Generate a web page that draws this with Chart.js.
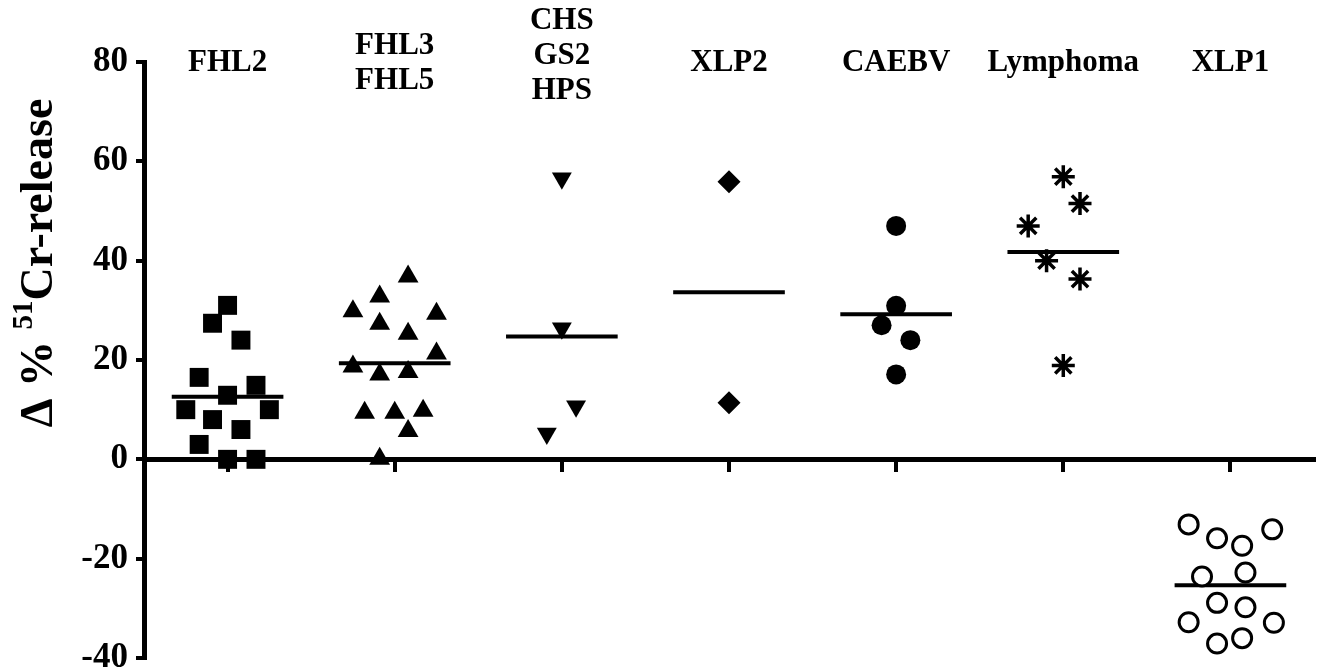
<!DOCTYPE html>
<html><head><meta charset="utf-8">
<script src="https://cdn.jsdelivr.net/npm/chart.js@4/dist/chart.umd.min.js"></script>
<style>html,body{margin:0;padding:0;background:#fff;}canvas{display:block;}</style>
</head><body>
<canvas id="c" width="1320" height="672"></canvas>
<script>
// ---- data ----
const categories = ['FHL2', 'FHL3 / FHL5', 'CHS / GS2 / HPS', 'XLP2', 'CAEBV', 'Lymphoma', 'XLP1'];
const categoryLabelLines = [['FHL2'], ['FHL3', 'FHL5'], ['CHS', 'GS2', 'HPS'], ['XLP2'], ['CAEBV'], ['Lymphoma'], ['XLP1']];
const yTickStep = 20;
const yMin = -40;
const yMax = 80;

const fhl2Values = [31.0, 27.4, 24.0, 16.5, 14.9, 12.9, 10.0, 10.0, 8.0, 6.0, 3.0, 0.0, 0.0];
const fhl2Spread = [0, -0.09, 0.08, -0.17, 0.17, 0, -0.25, 0.25, -0.09, 0.08, -0.17, 0, 0.17];

const fhl35Values = [36.8, 32.8, 29.8, 29.3, 27.3, 25.3, 21.3, 18.7, 17.1, 17.6, 9.4, 9.4, 9.8, 5.7, 0.1];
const fhl35Spread = [0.08, -0.09, -0.25, 0.25, -0.09, 0.08, 0.25, -0.25, -0.09, 0.08, -0.18, 0, 0.17, 0.08, -0.09];

const chsValues = [56.6, 26.4, 10.7, 5.2];
const chsSpread = [0, 0, 0.085, -0.09];

const xlp2Values = [55.9, 11.4];
const xlp2Spread = [0, 0];

const caebvValues = [47.0, 30.9, 27.0, 24.0, 17.1];
const caebvSpread = [0, 0, -0.087, 0.085, 0];

const lymphomaValues = [56.9, 51.5, 47.0, 40.0, 36.3, 18.9];
const lymphomaSpread = [0, 0.10, -0.21, -0.10, 0.10, 0];

const xlp1Values = [-13.1, -14.1, -15.9, -17.4, -23.6, -22.8, -28.9, -29.8, -32.8, -32.9, -37.1, -36.0];
const xlp1Spread = [-0.25, 0.25, -0.08, 0.07, -0.17, 0.09, -0.08, 0.09, -0.25, 0.26, -0.08, 0.07];

// ---- build chart ----
const groups = [
  {values: fhl2Values, spread: fhl2Spread, style: 'rect', radius: 13.4, fill: true, rotation: 0},
  {values: fhl35Values, spread: fhl35Spread, style: 'triangle', radius: 12, fill: true, rotation: 0},
  {values: chsValues, spread: chsSpread, style: 'triangle', radius: 11.5, fill: true, rotation: 180},
  {values: xlp2Values, spread: xlp2Spread, style: 'rectRot', radius: 11.5, fill: true, rotation: 0},
  {values: caebvValues, spread: caebvSpread, style: 'circle', radius: 10, fill: true, rotation: 0},
  {values: lymphomaValues, spread: lymphomaSpread, style: 'star', radius: 11.5, fill: true, rotation: 0, border: 3.5},
  {values: xlp1Values, spread: xlp1Spread, style: 'circle', radius: 9.5, fill: false, rotation: 0, border: 3}
];

const datasets = [];
groups.forEach((g, i) => {
  const mean = g.values.reduce((a, b) => a + b, 0) / g.values.length;
  datasets.push({
    type: 'line',
    label: categories[i] + ' mean',
    data: [{x: i - 0.334, y: mean}, {x: i + 0.334, y: mean}],
    borderColor: '#000',
    borderWidth: 4,
    pointRadius: 0,
    fill: false,
    order: 2
  });
  datasets.push({
    type: 'scatter',
    label: categories[i],
    data: g.values.map((v, k) => ({x: i + g.spread[k], y: v})),
    pointStyle: g.style,
    pointRadius: g.radius,
    pointRotation: g.rotation,
    backgroundColor: g.fill ? '#000' : '#fff',
    borderColor: '#000',
    borderWidth: g.border || 0.01,
    order: 1
  });
});

const labelsPlugin = {
  id: 'labelsPlugin',
  afterDraw(chart) {
    const ctx = chart.ctx;
    const xs = chart.scales.x;
    ctx.save();
    ctx.fillStyle = '#000';
    ctx.textAlign = 'center';
    ctx.textBaseline = 'middle';
    ctx.font = 'bold 31px "Liberation Serif"';
    categoryLabelLines.forEach((lines, i) => {
      const n = lines.length;
      let y0 = 63 - (n - 1) * 17.5 - (n > 2 ? 7 : 0);
      lines.forEach((t, k) => ctx.fillText(t, xs.getPixelForValue(i), y0 + k * 35));
    });
    // y axis title with superscript
    const big = 'bold 46px "Liberation Serif"';
    const small = 'bold 29px "Liberation Serif"';
    const parts = [
      {t: '\u0394 % ', f: big, dy: 0},
      {t: '51', f: small, dy: -15},
      {t: 'Cr-release', f: big, dy: 0}
    ];
    let total = 0;
    parts.forEach(p => { ctx.font = p.f; p.w = ctx.measureText(p.t).width; total += p.w; });
    ctx.translate(40, 263);
    ctx.rotate(-Math.PI / 2);
    ctx.textAlign = 'left';
    ctx.textBaseline = 'middle';
    let x = -total / 2;
    parts.forEach(p => { ctx.font = p.f; ctx.fillText(p.t, x, p.dy); x += p.w; });
    ctx.restore();
  }
};

new Chart(document.getElementById('c'), {
  type: 'scatter',
  data: {datasets},
  options: {
    responsive: false,
    animation: false,
    devicePixelRatio: 1,
    layout: {autoPadding: false, padding: {top: 62, bottom: 14, left: 0, right: 6}},
    plugins: {legend: {display: false}, tooltip: {enabled: false}},
    scales: {
      x: {
        type: 'linear',
        min: -0.5,
        max: categories.length - 0.5,
        position: {y: 0},
        afterBuildTicks: s => { s.ticks = categories.map((c, i) => ({value: i})); },
        afterFit: s => { s.height = 0; s.paddingLeft = 0; s.paddingRight = 0; s.paddingTop = 0; s.paddingBottom = 0; },
        ticks: {display: false},
        grid: {drawOnChartArea: false, drawTicks: true, tickLength: 10, lineWidth: 4, color: '#000'},
        border: {display: true, color: '#000', width: 5}
      },
      y: {
        type: 'linear',
        min: yMin,
        max: yMax,
        afterBuildTicks: s => {
          const t = [];
          for (let v = yMin; v <= yMax; v += yTickStep) t.push({value: v});
          s.ticks = t;
        },
        afterFit: s => { s.width = 144; s.paddingTop = 0; s.paddingBottom = 0; },
        ticks: {color: '#000', padding: 8, font: {family: 'Liberation Serif', weight: 'bold', size: 35}},
        grid: {drawOnChartArea: false, drawTicks: true, tickLength: 8, lineWidth: 4, color: '#000'},
        border: {display: true, color: '#000', width: 5}
      }
    }
  },
  plugins: [labelsPlugin]
});
</script>
</body></html>
